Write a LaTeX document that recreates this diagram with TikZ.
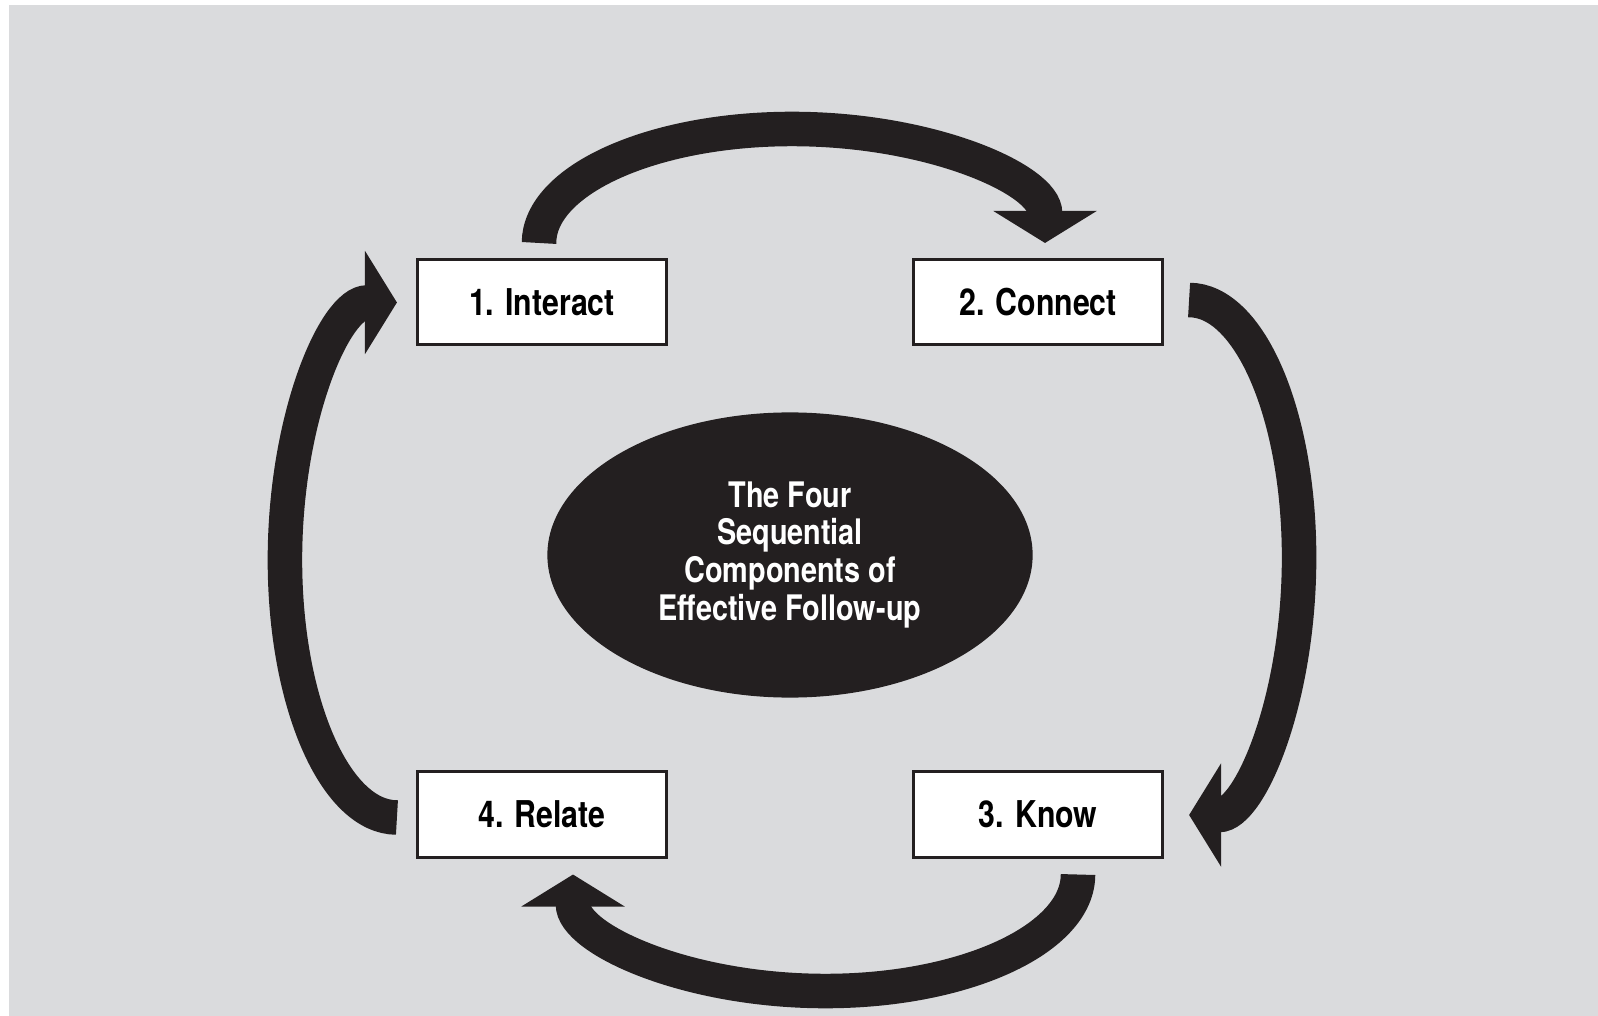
\documentclass[tikz,border=0pt]{standalone}
\usepackage{fontspec}
\setmainfont{TeX Gyre Heros}[FakeStretch=0.82]
\usepackage{xcolor}
\usepackage{tikz}
\usetikzlibrary{calc, arrows.meta, shapes.geometric}

\definecolor{panel}{HTML}{DADBDD}
\definecolor{ink}{HTML}{231F20}

\begin{document}
\begin{tikzpicture}[x=0.01cm, y=-0.01cm,
    stagebox/.style={draw=ink, line width=0.3mm, fill=white, minimum width=2.49cm,
        minimum height=0.85cm, inner sep=0pt, font=\fontsize{10.5}{12}\selectfont\bfseries},
    cyclearrow/.style={draw=ink, line width=3.45mm, -{Triangle[length=3.2mm, width=10.2mm]}}]
    % Grey panel behind everything
    \useasboundingbox (0,0) rectangle (1598,1016);
    \fill[panel] (9,5) rectangle (1598,1016);

    % The four stages, clockwise from top left
    \node[stagebox] (I) at (542,302) {1. Interact};
    \node[stagebox] (C) at (1038,302) {2. Connect};
    \node[stagebox] (K) at (1038,814.5) {3. Know};
    \node[stagebox] (R) at (542,814.5) {4. Relate};

    % Title in the middle
    \node[ellipse, fill=ink, minimum width=4.85cm, minimum height=2.85cm, inner sep=0pt,
        text=white, align=center, font=\fontsize{10}{10.8}\selectfont\bfseries] (F) at (790,555)
        {The Four\\Sequential\\Components of\\Effective Follow-up};

    % Half-ellipse arrows from one stage to the next (y axis points down)
    \draw[cyclearrow] ($(I.north)+(-3,-15)$) arc[start angle=180, end angle=360, x radius=253, y radius=114];
    \draw[cyclearrow] ($(C.east)+(25,-2)$) arc[start angle=-90, end angle=90, x radius=110, y radius=257.5];
    \draw[cyclearrow] ($(K.south)+(40,16)$) arc[start angle=0, end angle=180, x radius=252.5, y radius=116.5];
    \draw[cyclearrow] ($(R.west)+(-19,3)$) arc[start angle=90, end angle=270, x radius=112, y radius=257.5];
\end{tikzpicture}
\end{document}
